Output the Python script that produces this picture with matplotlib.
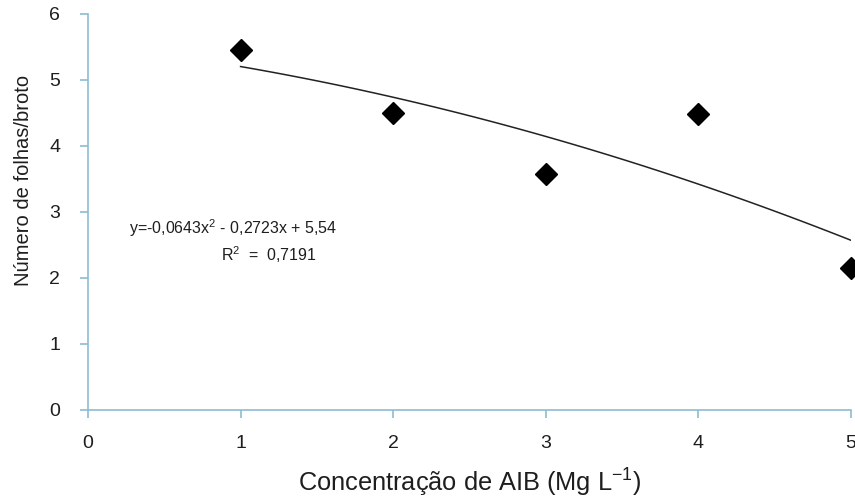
import numpy as np
import matplotlib
matplotlib.use('Agg')
import matplotlib.pyplot as plt

plt.rcParams['font.family'] = ['Liberation Sans', 'DejaVu Sans']

# concentration of AIB and number of leaves per shoot
conc = [1, 2, 3, 4, 5]
folhas = [5.45, 4.50, 3.57, 4.48, 2.15]

# quadratic fit shown on chart
coef = [-0.0643, -0.2723, 5.54]
x_fit = np.linspace(1, 5, 100)
y_fit = np.polyval(coef, x_fit)

axis_color = '#8dbccf'
text_color = '#1e1e1e'

fig = plt.figure(figsize=(8.55, 4.99), dpi=100)
ax = fig.add_axes([0.1029, 0.1784, 0.8924, 0.7936])

ax.plot(x_fit, y_fit, color='#222222', lw=1.1)
ax.plot(conc, folhas, 'D', color='black', markersize=11, clip_on=False)

ax.set_xlim(0, 5)
ax.set_ylim(0, 6)
ax.set_xticks([0, 1, 2, 3, 4, 5])
ax.set_yticks([0, 1, 2, 3, 4, 5, 6])

for side in ['top', 'right']:
    ax.spines[side].set_visible(False)
for side in ['left', 'bottom']:
    ax.spines[side].set_color(axis_color)
    ax.spines[side].set_linewidth(1.2)
ax.tick_params(colors=axis_color, length=6, width=1.2, labelcolor=text_color, labelsize=14)
ax.tick_params(axis='y', pad=14)
ax.tick_params(axis='x', pad=12)

ax.set_xlabel('Concentração de AIB (Mg L$^{\\mathregular{-1}}$)', fontsize=18.3, color=text_color, va='baseline')
ax.xaxis.set_label_coords(0.5, -0.207)
# y label placed by figure position (pixels: x 24, y 180 from top)
fig.text(24 / 855, 1 - 180 / 499, 'Número de folhas/broto', fontsize=14.5, color=text_color,
         rotation=90, ha='center', va='center')

ax.text(0.27, 2.75, 'y=-0,0643x$^{\\mathregular{2}}$ - 0,2723x + 5,54', fontsize=11.5, color=text_color, va='center')
ax.text(0.87, 2.36, 'R$^{\\mathregular{2}}$  =  0,7191', fontsize=11.5, color=text_color, va='center')

plt.savefig('out.png', dpi=100)
